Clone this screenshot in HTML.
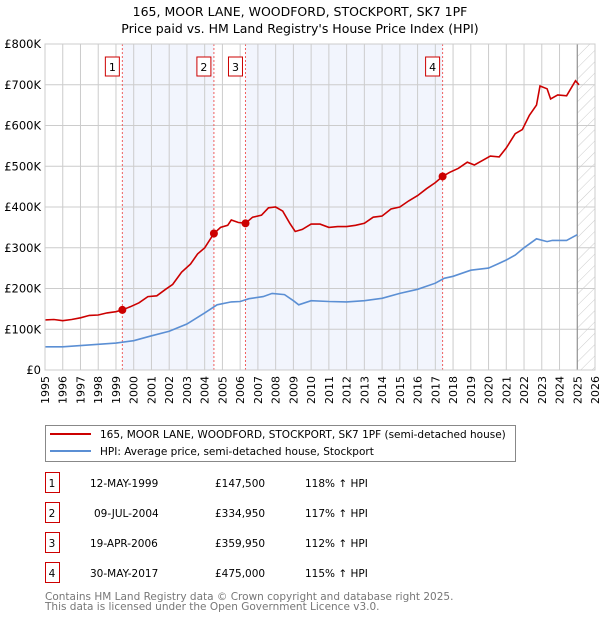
<!DOCTYPE html>
<html><head><meta charset="utf-8"><style>
body{margin:0;background:#fff;font-family:"DejaVu Sans","Liberation Sans",sans-serif;}
svg text{font-family:"DejaVu Sans","Liberation Sans",sans-serif;}
</style></head><body>
<svg id="c" width="600" height="620" xmlns="http://www.w3.org/2000/svg">
<defs><pattern id="hatch" width="8" height="8" patternUnits="userSpaceOnUse" patternTransform="rotate(45)"><line x1="0" y1="0" x2="0" y2="8" stroke="#ccc" stroke-width="1"/></pattern></defs>
<text x="300" y="16" text-anchor="middle" font-size="12.5">165, MOOR LANE, WOODFORD, STOCKPORT, SK7 1PF</text>
<text x="300" y="33" text-anchor="middle" font-size="12.5">Price paid vs. HM Land Registry's House Price Index (HPI)</text>
<g id="plot"></g>
<g>
<rect x="45.5" y="425.5" width="470" height="36" fill="#fff" stroke="#888"/>
<line x1="50" y1="434" x2="91" y2="434" stroke="#cc0000" stroke-width="2"/>
<text x="100" y="438" font-size="10.5">165, MOOR LANE, WOODFORD, STOCKPORT, SK7 1PF (semi-detached house)</text>
<line x1="50" y1="451" x2="91" y2="451" stroke="#5b8fd4" stroke-width="2"/>
<text x="100" y="455" font-size="10.5">HPI: Average price, semi-detached house, Stockport</text>
</g>
<g id="table" font-size="10.5"></g>
<text x="45" y="600" font-size="10.5" fill="#777">Contains HM Land Registry data © Crown copyright and database right 2025.</text>
<text x="45" y="610" font-size="10.5" fill="#777">This data is licensed under the Open Government Licence v3.0.</text>
</svg>
<script>
const years=[1995,1996,1997,1998,1999,2000,2001,2002,2003,2004,2005,2006,2007,2008,2009,2010,2011,2012,2013,2014,2015,2016,2017,2018,2019,2020,2021,2022,2023,2024,2025,2026];
const yTicks=[0,100,200,300,400,500,600,700,800];
const yTickLabels=["£0","£100K","£200K","£300K","£400K","£500K","£600K","£700K","£800K"];
const redT=[1995.0,1995.5,1996.0,1996.5,1997.0,1997.5,1998.0,1998.5,1999.0,1999.36,1999.8,2000.3,2000.8,2001.3,2001.8,2002.2,2002.7,2003.2,2003.6,2004.0,2004.52,2004.9,2005.3,2005.5,2005.9,2006.3,2006.7,2007.2,2007.6,2008.0,2008.4,2008.8,2009.1,2009.5,2010.0,2010.5,2011.0,2011.5,2012.0,2012.5,2013.0,2013.5,2014.0,2014.5,2015.0,2015.5,2016.0,2016.5,2017.0,2017.41,2017.8,2018.3,2018.8,2019.2,2019.7,2020.1,2020.6,2021.0,2021.5,2021.9,2022.3,2022.7,2022.9,2023.3,2023.5,2023.9,2024.4,2024.7,2024.9,2025.1];
const redV=[123,124,121,124,128,134,135,140,143,147.5,155,165,180,182,198,210,240,260,285,300,335,350,355,368,362,360,375,380,398,400,390,360,340,345,358,358,350,352,352,355,360,375,378,395,400,415,428,445,460,475,485,495,510,503,515,525,523,545,580,590,625,650,697,690,665,675,673,695,710,700];
const hpiT=[1995,1996,1997,1998,1999,2000,2001,2002,2003,2004,2004.7,2005.5,2006,2006.5,2007.3,2007.8,2008.5,2009.0,2009.3,2010,2011,2012,2013,2014,2015,2016,2017,2017.5,2018,2019,2020,2020.5,2021,2021.5,2022,2022.7,2023.3,2023.6,2024.4,2024.7,2025.0];
const hpiV=[57,57,60,63,66,72,84,95,113,140,160,167,168,175,180,188,185,170,160,170,168,167,170,176,188,198,213,225,230,245,250,260,270,282,300,322,315,318,318,325,332];
const saleT=[1999.36,2004.52,2006.3,2017.41];
const saleV=[147.5,334.95,359.95,475];
const saleDates=["12-MAY-1999","09-JUL-2004","19-APR-2006","30-MAY-2017"];
const salePrices=["£147,500","£334,950","£359,950","£475,000"];
const saleHpi=["118% ↑ HPI","117% ↑ HPI","112% ↑ HPI","115% ↑ HPI"];

const X0=45,X1=595,Y0=370,Y1=44;
const sx=t=>X0+(t-1995)/(2026-1995)*(X1-X0);
const sy=v=>Y0-v/800*(Y0-Y1);
const NS="http://www.w3.org/2000/svg";
const plot=document.getElementById('plot');
function mk(tag,attrs,parent){const e=document.createElementNS(NS,tag);for(const k in attrs)e.setAttribute(k,attrs[k]);(parent||plot).appendChild(e);return e;}
for(const [a,b] of [[0,1],[2,3]]){
 const r=mk('rect',{x:sx(saleT[a]),y:Y1,width:sx(saleT[b])-sx(saleT[a]),height:Y0-Y1,fill:'#f2f5fd'});
 
 
}
const h=mk('rect',{x:sx(2025.0),y:Y1,width:X1-sx(2025.0),height:Y0-Y1,fill:'url(#hatch)'});


years.forEach(y=>{const l=mk('line',{x1:sx(y),x2:sx(y),y1:Y1,y2:Y0,stroke:'#ccc'});
 
 
 const t=mk('text',{x:0,y:0,'font-size':11,'text-anchor':'end',transform:`translate(${sx(y)+4},${Y0+6}) rotate(-90)`});
 t.textContent=y;
 
 
});
yTicks.forEach((v,i)=>{const l=mk('line',{x1:X0,x2:X1,y1:sy(v),y2:sy(v),stroke:'#ccc'});
 
 
 const t=mk('text',{x:X0-4,y:sy(v)+4,'font-size':11.5,'text-anchor':'end'});
 t.textContent=yTickLabels[i];
 
 
});
const vl=mk('line',{x1:sx(2025.0),x2:sx(2025.0),y1:Y1,y2:Y0,stroke:'#888'});


saleT.forEach((t,i)=>{
 const l=mk('line',{x1:sx(t),x2:sx(t),y1:Y1,y2:Y0,stroke:'#f06060','stroke-dasharray':'2,2'});
 
 
 const r=mk('rect',{x:sx(t)-17,y:57,width:14,height:19,fill:'#fff',stroke:'#cc0000'});
 
 
 const tx=mk('text',{x:sx(t)-10,y:71,'font-size':11,'text-anchor':'middle'});
 tx.textContent=i+1;
 
 
});
const pts=(T,V)=>T.map((t,i)=>sx(t).toFixed(1)+','+sy(V[i]).toFixed(1)).join(' ');
const hp=mk('polyline',{points:pts(hpiT,hpiV),fill:'none',stroke:'#5b8fd4','stroke-width':1.6});


const rp=mk('polyline',{points:pts(redT,redV),fill:'none',stroke:'#cc0000','stroke-width':1.6});


saleT.forEach((t,i)=>{const c=mk('circle',{cx:sx(t),cy:sy(saleV[i]),r:4,fill:'#cc0000'});
 
 
});
mk('rect',{x:X0,y:Y1,width:X1-X0,height:Y0-Y1,fill:'none',stroke:'#ccc'});
const tb=document.getElementById('table');
saleDates.forEach((d,i)=>{
 const y=483+i*30;
 const r=mk('rect',{x:45.5,y:y-10.5,width:14,height:20,fill:'#fff',stroke:'#cc0000'},tb);
 
 
 const cells=[[52,String(i+1),'middle'],[90,d,'start'],[215,salePrices[i],'start'],[305,saleHpi[i],'start']];
 cells.forEach(([x,s,a],j)=>{const t=mk('text',{x:x+(j==1&&i==1?4:0),y:y+4,'text-anchor':a,'font-size':10.5},tb);
  t.textContent=s;
  
  
 });
});
</script>
</body></html>
